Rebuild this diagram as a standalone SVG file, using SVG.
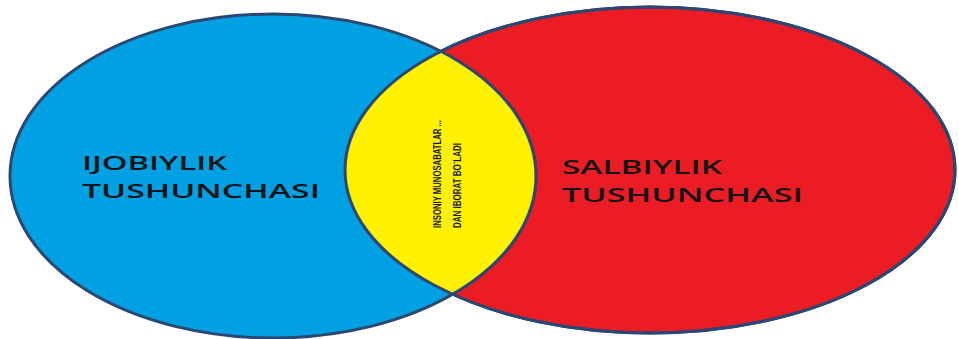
<svg xmlns="http://www.w3.org/2000/svg" width="959" height="339" viewBox="0 0 959 339">
<style>
.big{font-family:"Open Sans","Liberation Sans",sans-serif;font-size:19.5px;font-weight:600;fill:#141414;}
.small{font-family:"Liberation Sans",sans-serif;font-size:11.5px;font-weight:bold;fill:#1a1a1a;}
.edge{stroke:#2c4772;stroke-width:3;}
</style>
<defs>
<clipPath id="redClip"><ellipse cx="650" cy="170" rx="305" ry="163"/></clipPath>
</defs>
<rect width="959" height="339" fill="#ffffff"/>
<g id="red">
<ellipse class="edge" cx="650" cy="170" rx="305" ry="163" fill="#ec1c24"/>
</g>
<g id="blue">
<ellipse class="edge" cx="273" cy="176" rx="263" ry="162" fill="#00a0e3"/>
</g>
<g id="yellow">
<ellipse cx="273" cy="176" rx="263" ry="162" fill="#fff200" clip-path="url(#redClip)"/>
<g clip-path="url(#redClip)"><ellipse class="edge" cx="273" cy="176" rx="263" ry="162" fill="none"/></g>
<ellipse class="edge" cx="650" cy="170" rx="305" ry="163" fill="none"/>
<text class="small" transform="translate(441,228) rotate(-90)" textLength="108" lengthAdjust="spacingAndGlyphs">INSONIY MUNOSABATLAR ...</text>
<text class="small" transform="translate(461,228) rotate(-90)" textLength="85" lengthAdjust="spacingAndGlyphs">DAN IBORAT BO`LADI</text>
</g>
<g id="label-left">
<text class="big" x="82" y="170" textLength="145" lengthAdjust="spacingAndGlyphs">IJOBIYLIK</text>
<text class="big" x="82" y="198" textLength="238" lengthAdjust="spacingAndGlyphs">TUSHUNCHASI</text>
</g>
<g id="label-right">
<text class="big" x="562" y="174" textLength="160" lengthAdjust="spacingAndGlyphs">SALBIYLIK</text>
<text class="big" x="562" y="202" textLength="241" lengthAdjust="spacingAndGlyphs">TUSHUNCHASI</text>
</g>
<g id="connectors"></g>
</svg>
